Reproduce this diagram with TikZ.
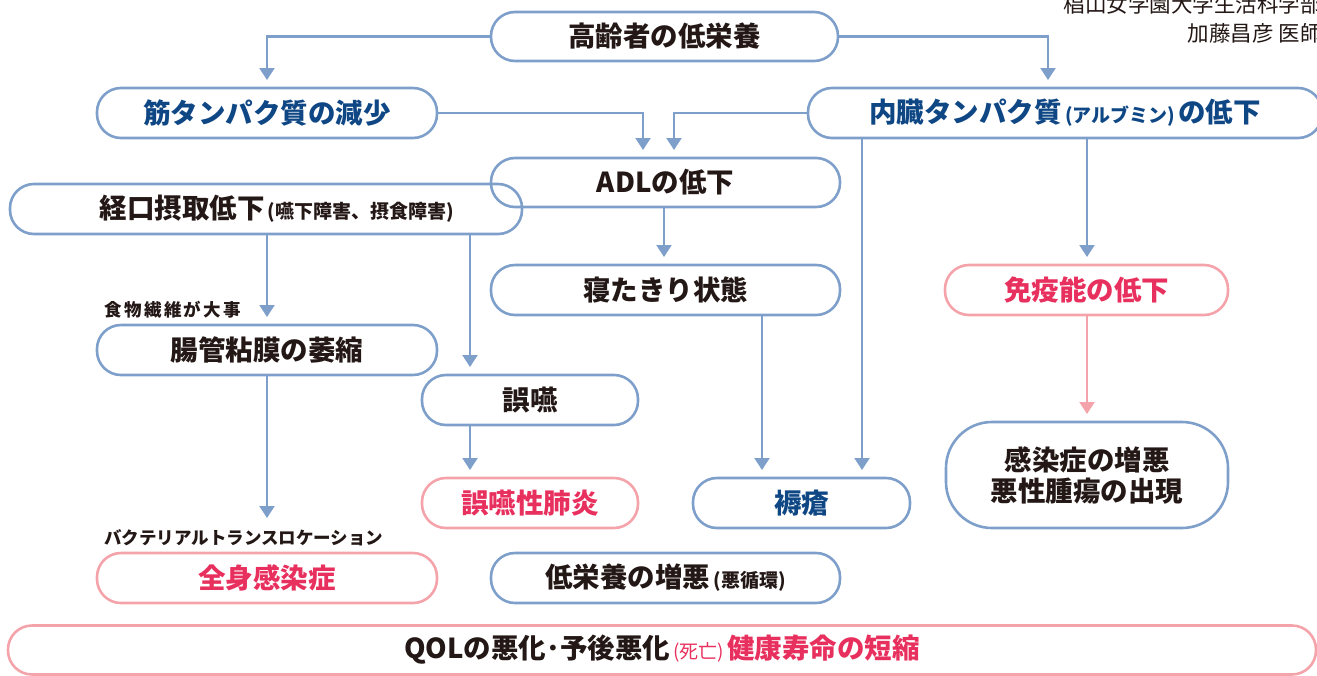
\documentclass[tikz,border=0pt]{standalone}
\usepackage{fontspec}
\usetikzlibrary{arrows.meta,calc}
\newfontfamily\jp{Noto Sans CJK JP}
\newfontfamily\jpls{Noto Sans CJK JP}[LetterSpace=14]
\definecolor{lineblue}{HTML}{7F9FCB}
\definecolor{linepink}{HTML}{F5A3AA}
\definecolor{txtblue}{HTML}{0F4785}
\definecolor{txtred}{HTML}{E8305E}
\definecolor{txtblack}{HTML}{231815}
\newcommand{\smallp}{\fontsize{19}{21}\selectfont}
\begin{document}
\begin{tikzpicture}[x=1pt,y=-1pt,
  box/.style={draw=lineblue,line width=2.6pt,rounded corners=24pt,inner sep=0pt,align=center,
    font=\jp\bfseries\fontsize{27.5}{31}\selectfont,text=txtblack},
  pbox/.style={box,draw=linepink,text=txtred},
  bbox/.style={box,text=txtblue},
  conn/.style={draw=lineblue,line width=2.2pt,-{Triangle[width=15pt,length=12pt]}},
  pconn/.style={conn,draw=linepink},
  note/.style={anchor=west,inner sep=0pt,font=\jp\bfseries\fontsize{17.5}{20}\selectfont,text=txtblack},
  credit/.style={anchor=east,inner sep=0pt,font=\jp\fontsize{21.5}{24}\selectfont,text=txtblack}]
\useasboundingbox (0,0) rectangle (1317,675);
\clip (0,0) rectangle (1317,675);

% credits
\node[credit] (cr1) at (1322,4) {椙山女学園大学生活科学部};
\node[credit] (cr2) at (1322,33) {加藤昌彦 医師};

% boxes
\node[box,minimum width=347pt,minimum height=49pt] (n1) at (664.5,36.5) {高齢者の低栄養};
\node[bbox,minimum width=340pt,minimum height=50pt] (n2) at (267,113) {筋タンパク質の減少};
\node[bbox,minimum width=514pt,minimum height=50pt] (n3) at (1065,113) {内臓タンパク質{\smallp\,(アルブミン)\,}の低下};
\node[box,minimum width=349pt,minimum height=49pt] (n4) at (665.5,182.5) {ADLの低下};
\node[box,minimum width=512pt,minimum height=50pt] (n5) at (266,209) {\hspace*{22pt}経口摂取低下{\smallp\,(嚥下障害、摂食障害)}};
\node[box,minimum width=349pt,minimum height=50pt] (n6) at (665.5,290) {寝たきり状態};
\node[pbox,minimum width=283pt,minimum height=50pt] (n7) at (1086.5,290) {免疫能の低下};
\node[box,minimum width=340pt,minimum height=50pt] (n8) at (267,350) {腸管粘膜の萎縮};
\node[box,minimum width=216pt,minimum height=50pt] (n9) at (530,400) {誤嚥};
\node[box,rounded corners=46pt,minimum width=282pt,minimum height=106pt] (n10) at (1087,475) {感染症の増悪\\悪性腫瘍の出現};
\node[pbox,minimum width=216pt,minimum height=50pt] (n11) at (530,503) {誤嚥性肺炎};
\node[bbox,minimum width=217pt,minimum height=50pt] (n12) at (801.5,503) {褥瘡};
\node[pbox,minimum width=340pt,minimum height=50pt] (n13) at (267,578) {全身感染症};
\node[box,minimum width=349pt,minimum height=50pt] (n14) at (665.5,578) {低栄養の増悪{\smallp\,(悪循環)}};
\node[box,draw=linepink,minimum width=1308pt,minimum height=49pt] (n15) at (662,650)
  {QOLの悪化･予後悪化{\color{txtred}\mdseries\smallp\,(死亡)\,}{\color{txtred}健康寿命の短縮}};

% notes
\node[note] (lb1) at (104,310) {\jpls\bfseries 食物繊維が大事};
\node[note] (lb2) at (104,538) {バクテリアルトランスロケーション};

% arrow tip coordinates
\coordinate (t1) at (267,80);
\coordinate (t2) at (1048,80);
\coordinate (t3) at (643,150);
\coordinate (t4) at (674,150);
\coordinate (t5) at (267,317);
\coordinate (t6) at (470,367);
\coordinate (t7) at (664,257);
\coordinate (t8) at (762,470);
\coordinate (t9) at (862,470);
\coordinate (t10) at (1087,257);
\coordinate (t11) at (1087,414);
\coordinate (t12) at (267,518);
\coordinate (t13) at (470,470);

% connectors
\draw[conn] (n1.west) -| (t1);
\draw[conn] (n1.east) -| (t2);
\draw[conn] (n2.east) -| (t3);
\draw[conn] (n3.west) -| (t4);
\draw[conn] (n5.south -| t5) -- (t5);
\draw[conn] (n5.south -| t6) -- (t6);
\draw[conn] (n4.south -| t7) -- (t7);
\draw[conn] (n6.south -| t8) -- (t8);
\draw[conn] (n3.south -| t9) -- (t9);
\draw[conn] (n3.south -| t10) -- (t10);
\draw[pconn] (n7.south -| t11) -- (t11);
\draw[conn] (n8.south -| t12) -- (t12);
\draw[conn] (n9.south -| t13) -- (t13);
\end{tikzpicture}
\end{document}
